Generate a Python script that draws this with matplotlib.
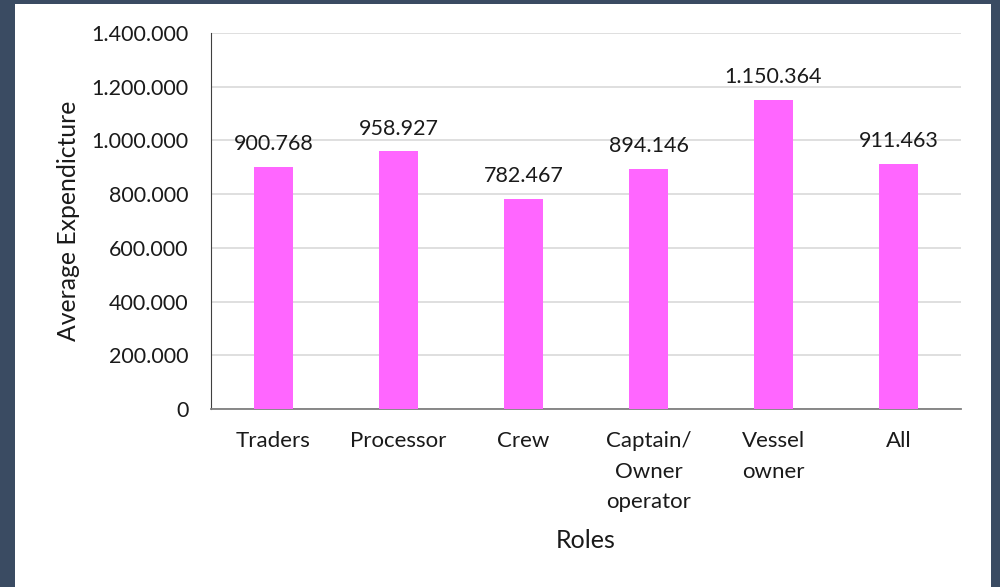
import matplotlib
matplotlib.use("Agg")
import matplotlib.pyplot as plt
from matplotlib.patches import Rectangle

roles = ["Traders", "Processor", "Crew", "Captain/\nOwner\noperator", "Vessel\nowner", "All"]
expenditure = [900768, 958927, 782467, 894146, 1150364, 911463]
yticks = [0, 200000, 400000, 600000, 800000, 1000000, 1200000, 1400000]


def dotted(v):
    # thousands separated by dots, like the source
    return "{:,}".format(int(v)).replace(",", ".")


plt.rcParams["font.family"] = ["Lato", "DejaVu Sans"]

fig = plt.figure(figsize=(10, 5.87), dpi=100)
fig.patch.set_facecolor("#3a4b62")
fig.patches.append(Rectangle((0.015, 0.0), 0.976, (587 - 4) / 587,
                             transform=fig.transFigure, facecolor="white",
                             edgecolor="none", zorder=-10))

ax = fig.add_axes([0.211, (587 - 409) / 587, 0.75, (409 - 33) / 587])
ax.set_facecolor("white")

x = range(len(roles))
bars = ax.bar(x, expenditure, width=0.31, color="#ff66ff", zorder=3)
for b, v in zip(bars, expenditure):
    ax.text(b.get_x() + b.get_width() / 2, v + 48000, dotted(v),
            ha="center", va="bottom", fontsize=15.5, color="#1a1a1a")

ax.set_ylim(0, 1400000)
ax.set_xlim(-0.5, len(roles) - 0.5)
ax.set_yticks(yticks)
ax.set_yticklabels([dotted(t) for t in yticks], fontsize=15.5, color="#1a1a1a")
ax.set_xticks(list(x))
ax.set_xticklabels(roles, fontsize=16, color="#1a1a1a", linespacing=1.65, va="top")
ax.tick_params(axis="y", length=0, pad=16)
ax.tick_params(axis="x", length=0, pad=16)

ax.yaxis.grid(True, color="#d9d9d9", linewidth=1.2, zorder=0)
for s in ["top", "right"]:
    ax.spines[s].set_visible(False)
ax.spines["left"].set_color("#404040")
ax.spines["bottom"].set_color("#7f7f7f")
ax.spines["bottom"].set_linewidth(1.3)

ax.set_ylabel("Average Expendicture", fontsize=17.8, color="#1a1a1a", labelpad=8)
ax.set_xlabel("Roles", fontsize=18, color="#1a1a1a", labelpad=12)

fig.savefig("out.png", dpi=100, facecolor=fig.get_facecolor())
